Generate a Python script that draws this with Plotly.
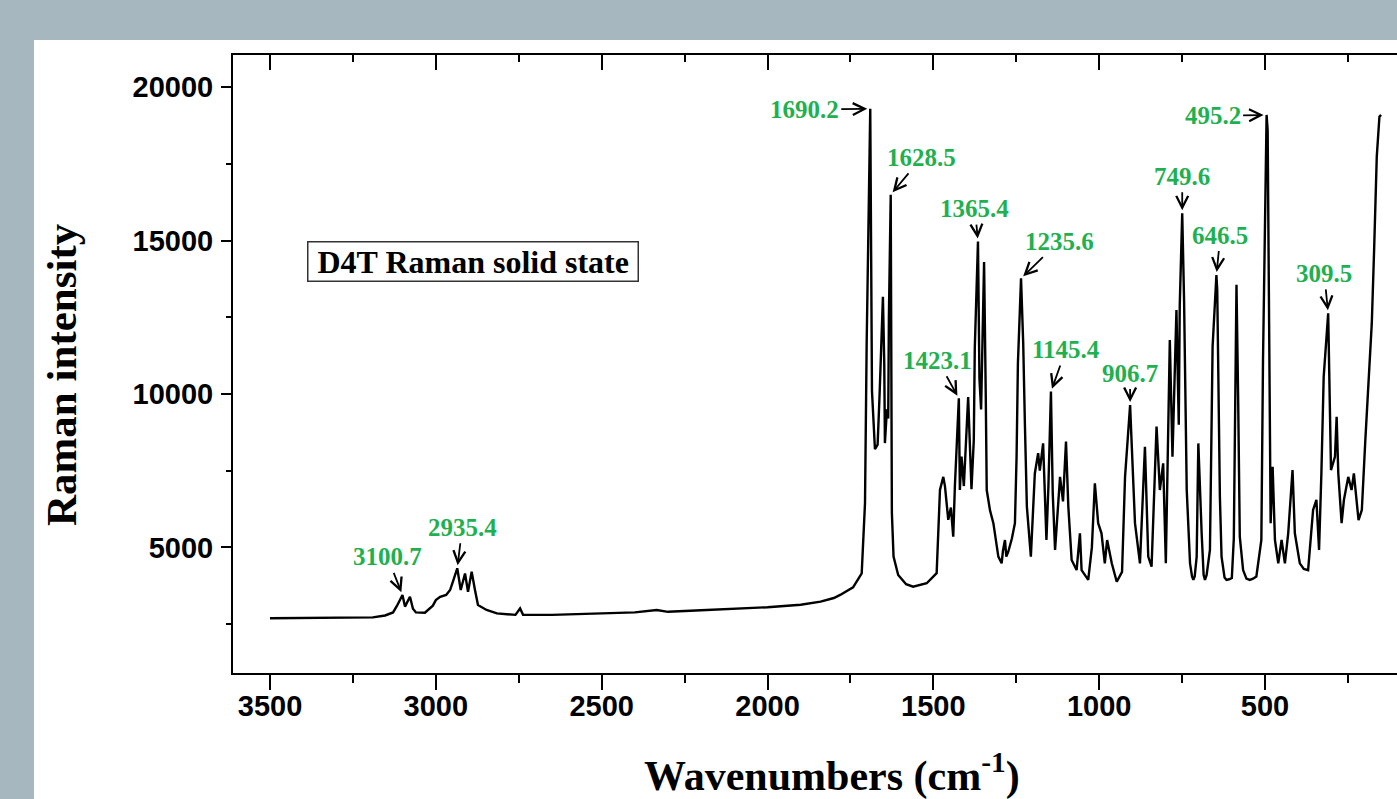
import plotly.graph_objects as go

# ---------------- data ----------------
wavenumber = [
    3500, 3320, 3190, 3153, 3129, 3117, 3100.7, 3093, 3078, 3069, 3060, 3033,
    3009, 3000, 2987, 2969, 2957, 2948, 2935.4, 2925, 2912, 2903, 2892, 2882,
    2873, 2847, 2816, 2760, 2746, 2737, 2650, 2500, 2400, 2334, 2300, 2200,
    2100, 2000, 1900, 1840, 1800, 1781, 1742, 1716, 1706, 1701, 1690.2, 1685,
    1676, 1668, 1662, 1652, 1648, 1646, 1640, 1636, 1634, 1628.5, 1625, 1620,
    1606, 1582, 1561, 1520, 1490, 1485, 1480, 1470, 1465, 1455, 1447, 1440,
    1435, 1423.1, 1420, 1415, 1408, 1395, 1385, 1378, 1375, 1365.4, 1361, 1356,
    1352, 1347, 1342, 1339, 1329, 1319, 1304, 1294, 1290, 1284, 1280, 1274,
    1263, 1254, 1249, 1245, 1235.6, 1229, 1224, 1218, 1206, 1194, 1184, 1179,
    1169, 1159, 1153, 1145.4, 1140, 1133, 1118, 1109, 1100, 1093, 1083, 1068,
    1058, 1053, 1033, 1022, 1013, 1003, 993, 983, 976, 962, 947, 931,
    922, 906.7, 902, 892, 877, 862, 852, 842, 827, 817, 807, 799,
    787, 779, 767, 760, 757, 749.6, 744, 736, 726, 720, 716, 712,
    706, 701, 691, 685, 681, 676, 666, 658, 646.5, 644, 636, 631,
    622, 616, 608, 600, 594, 586, 581, 576, 566, 556, 546, 536,
    526, 511, 506, 495.2, 492, 487, 483, 477, 470, 460, 450, 440,
    430, 417, 410, 395, 383, 370, 355, 345, 337, 330, 323, 309.5,
    306, 301, 289, 284, 279, 269, 262, 249, 239, 232, 218, 208,
    198, 188, 178, 171, 163, 155, 150,
]
intensity = [
    2690, 2700, 2720, 2780, 2880, 3100, 3450, 3070, 3390, 3000, 2880, 2870,
    3100, 3280, 3390, 3450, 3610, 3900, 4320, 3610, 4150, 3550, 4210, 3610,
    3120, 2960, 2850, 2800, 3010, 2800, 2800, 2850, 2880, 2960, 2900, 2950,
    3000, 3050, 3130, 3230, 3350, 3450, 3700, 4150, 6450, 11660, 19300, 10100,
    8200, 8350, 10000, 13170, 11000, 8400, 9500, 9200, 12500, 16500, 6120, 4700,
    4100, 3800, 3720, 3830, 4160, 5500, 6870, 7300, 7000, 5900, 6300, 5350,
    7000, 9860, 6870, 7960, 7000, 9900, 6900, 8500, 11500, 14970, 10500, 9500,
    12000, 14300, 10000, 6870, 6200, 5790, 4700, 4480, 4900, 5240, 4700, 4860,
    5300, 5790, 7960, 11000, 13770, 11650, 9050, 6330, 4700, 7410, 8070, 7500,
    8390, 5240, 7000, 10080, 6760, 4920, 7300, 6500, 8450, 6330, 4590, 4260,
    5460, 4260, 3940, 5000, 7090, 5790, 5460, 4480, 5240, 4480, 3880, 4200,
    7300, 9640, 8390, 5790, 4480, 8280, 4700, 4370, 8940, 6870, 7740, 4480,
    11760, 7960, 12740, 9000, 12900, 15890, 13070, 6870, 4480, 4050, 3940, 4050,
    4700, 8390, 5460, 4100, 3940, 4100, 4920, 11550, 13880, 13390, 6650, 4700,
    4020, 3940, 3960, 4000, 5300, 13560, 9910, 5350, 4260, 3980, 3940, 3980,
    4050, 5240, 11110, 19100, 18600, 9480, 5790, 7630, 5240, 4480, 5240, 4480,
    5460, 7520, 5460, 4480, 4300, 4260, 6220, 6550, 4920, 7410, 10570, 12630,
    9810, 7520, 7960, 9260, 7410, 5790, 6550, 7300, 6870, 7410, 5890, 6220,
    8390, 10460, 12310, 14700, 17740, 19040, 19100,
]

peak_labels = ["3100.7", "2935.4", "1690.2", "1628.5", "1423.1", "1365.4",
               "1235.6", "1145.4", "906.7", "749.6", "646.5", "495.2", "309.5"]
peak_positions = [3100.7, 2935.4, 1690.2, 1628.5, 1423.1, 1365.4,
                  1235.6, 1145.4, 906.7, 749.6, 646.5, 495.2, 309.5]

x_tick_values = [500, 1000, 1500, 2000, 2500, 3000, 3500]
y_tick_values = [5000, 10000, 15000, 20000]

x_title = "Wavenumbers (cm<sup>-1</sup>)"
y_title = "Raman intensity"
inset_text = "D4T Raman solid state"

# ---------------- layout constants ----------------
W, H = 1397, 799
ML, MR, MT, MB = 233, 0, 55, 126
PW, PH = W - ML - MR, H - MT - MB
X_RANGE = [3611.6, 102]
Y_RANGE = [905, 21053]

def px_to_paper_x(px):
    return (px - ML) / PW

def px_to_paper_y(py):
    return (H - MB - py) / PH

GREEN = "#1fb050"
SERIF = "Liberation Serif"
SANS = "Liberation Sans"

# pixel offsets (label centre relative to the peak tip)
label_offsets = {
    "3100.7": (-15, -38), "2935.4": (5, -41), "1690.2": (-66, 1),
    "1628.5": (31, -37), "1423.1": (-21, -38), "1365.4": (-3, -33),
    "1235.6": (38, -37), "1145.4": (15, -42), "906.7": (0, -32),
    "749.6": (0, -37), "646.5": (4, -40), "495.2": (-54, 1),
    "309.5": (-4, -40),
}

fig = go.Figure()
fig.add_trace(go.Scatter(
    x=wavenumber, y=intensity, mode="lines",
    line=dict(color="black", width=2.4),
    showlegend=False, hoverinfo="skip",
))
# invisible helper so the top (mirror) axis with inward ticks gets drawn
fig.add_trace(go.Scatter(
    x=[wavenumber[0]], y=[intensity[0]], xaxis="x2", mode="markers",
    marker=dict(opacity=0), showlegend=False, hoverinfo="skip",
))

annotations = []
for lab, pos in zip(peak_labels, peak_positions):
    yv = intensity[wavenumber.index(pos)]
    ax, ay = label_offsets[lab]
    annotations.append(dict(
        x=pos, y=yv, xref="x", yref="y", text=lab,
        showarrow=True, ax=ax, ay=ay,
        arrowhead=5, arrowsize=1.3, arrowwidth=1.8, arrowcolor="black",
        standoff=3, startstandoff=1,
        font=dict(family=SERIF, size=25, color=GREEN, weight="bold"),
    ))

annotations.append(dict(
    x=px_to_paper_x(473), y=px_to_paper_y(261), xref="paper", yref="paper",
    xanchor="center", yanchor="middle",
    text="\u00a0" + inset_text + "\u00a0", showarrow=False,
    font=dict(family=SERIF, size=32, color="black", weight="bold"),
    bordercolor="#333333", borderwidth=1.5, borderpad=1, bgcolor="white",
))
annotations.append(dict(
    x=px_to_paper_x(61), y=px_to_paper_y(375), xref="paper", yref="paper",
    xanchor="center", yanchor="middle",
    text=y_title, showarrow=False, textangle=-90,
    font=dict(family=SERIF, size=43, color="black", weight="bold"),
))
annotations.append(dict(
    x=px_to_paper_x(832), y=px_to_paper_y(773), xref="paper", yref="paper",
    xanchor="center", yanchor="middle",
    text=x_title, showarrow=False,
    font=dict(family=SERIF, size=42, color="black", weight="bold"),
))

tickfont = dict(family=SANS, size=29, color="black", weight="bold")

fig.update_layout(
    width=W, height=H,
    margin=dict(l=ML, r=MR, t=MT, b=MB, pad=0),
    paper_bgcolor="#a7b7bf",
    plot_bgcolor="white",
    showlegend=False,
    annotations=annotations,
    shapes=[dict(
        type="rect", xref="paper", yref="paper", layer="below",
        x0=px_to_paper_x(34), x1=1.2, y0=-0.5, y1=px_to_paper_y(40),
        fillcolor="white", line=dict(width=0),
    )],
    xaxis=dict(
        range=X_RANGE, autorange=False,
        tickmode="array", tickvals=x_tick_values,
        ticks="outside", ticklen=15, tickwidth=2, tickcolor="black",
        minor=dict(ticks="outside", dtick=250, tick0=0, ticklen=8,
                   tickwidth=2, tickcolor="black"),
        showline=True, linecolor="black", linewidth=2, mirror=True,
        showgrid=False, zeroline=False,
        tickfont=tickfont, ticklabelstandoff=-9,
    ),
    xaxis2=dict(
        range=X_RANGE, autorange=False, overlaying="x", side="top",
        anchor="y",
        tickmode="array", tickvals=x_tick_values,
        ticks="inside", ticklen=15, tickwidth=2, tickcolor="black",
        minor=dict(ticks="inside", dtick=250, tick0=0, ticklen=7,
                   tickwidth=2, tickcolor="black"),
        showticklabels=False, showline=False, showgrid=False, zeroline=False,
    ),
    yaxis=dict(
        range=Y_RANGE, autorange=False,
        tickmode="array", tickvals=y_tick_values, tickformat="d",
        ticks="outside", ticklen=10, tickwidth=2, tickcolor="black",
        minor=dict(ticks="outside", dtick=2500, tick0=0, ticklen=5,
                   tickwidth=2, tickcolor="black"),
        showline=True, linecolor="black", linewidth=2, mirror=False,
        showgrid=False, zeroline=False,
        tickfont=tickfont, ticklabelstandoff=2,
    ),
)

fig.write_html(
    "out.html",
    config={"displayModeBar": False},
    post_script="document.body.style.margin='0';document.body.style.overflow='hidden';",
)
